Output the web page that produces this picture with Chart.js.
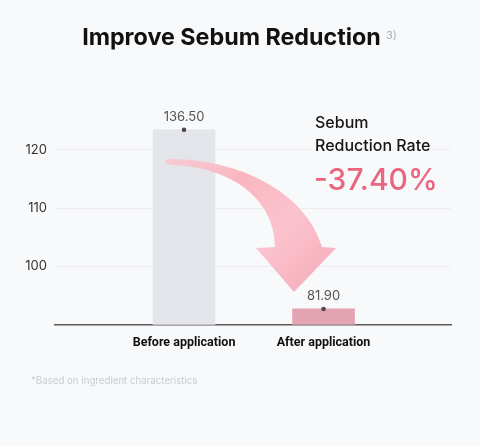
<!DOCTYPE html>
<html>
<head>
<meta charset="utf-8">
<script src="https://cdn.jsdelivr.net/npm/chart.js@4"></script>
<style>
  html, body { margin: 0; padding: 0; background: #f8f9fb; }
  #wrap { width: 480px; height: 446px; }
</style>
</head>
<body>
<div id="wrap"><canvas id="sebumChart" width="480" height="446"></canvas></div>
<script>
// chart data
const categories = ['Before application', 'After application'];
const barValues = [123.4, 92.7];        // bar heights as drawn on the axis
const valueLabels = ['136.50', '81.90']; // numbers printed above the bars
const yTicks = [100, 110, 120];
const rateText = '-37.40%';

const FONT = 'Inter, "Noto Sans", sans-serif';
const NARROW = 'Roboto, "Noto Sans", sans-serif';

// background + title + side texts + footnote
const decorPlugin = {
    id: 'decor',
    beforeDraw(chart) {
        const ctx = chart.ctx;
        ctx.save();
        ctx.fillStyle = '#f8f9fb';
        ctx.fillRect(0, 0, chart.width, chart.height);
        ctx.restore();
    },
    afterDraw(chart) {
        const ctx = chart.ctx;
        ctx.save();
        // title
        ctx.fillStyle = '#111';
        ctx.font = 'bold 23.3px ' + FONT;
        ctx.textBaseline = 'alphabetic';
        ctx.textAlign = 'center';
        ctx.fillText('Improve Sebum Reduction', 231.5, 45);
        ctx.fillStyle = '#a9abb0';
        ctx.font = '11px ' + FONT;
        ctx.textAlign = 'left';
        ctx.fillText('3)', 386, 39);

        // reduction rate
        ctx.fillStyle = '#151515';
        ctx.font = '500 16px ' + FONT;
        ctx.fillText('Sebum', 315, 128);
        ctx.fillText('Reduction Rate', 315, 151);
        ctx.fillStyle = '#e8667e';
        ctx.font = '500 30px ' + FONT;
        ctx.fillText(rateText, 314, 190);

        // footnote
        ctx.fillStyle = '#c9cbd0';
        ctx.font = '9.7px ' + FONT;
        ctx.fillText('*Based on ingredient characteristics', 31, 384);
        ctx.restore();
    }
};

// curved arrow + value labels above the bars
const arrowPlugin = {
    id: 'arrow',
    afterDatasetsDraw(chart) {
        const ctx = chart.ctx;
        ctx.save();
        const g = ctx.createLinearGradient(165, 160, 300, 290);
        g.addColorStop(0, 'rgba(250,196,206,0.75)');
        g.addColorStop(0.35, '#f9b5bf');
        g.addColorStop(0.7, '#fbc3cf');
        g.addColorStop(1, '#f7b2be');
        ctx.fillStyle = g;
        ctx.beginPath();
        ctx.moveTo(167, 159);
        ctx.bezierCurveTo(235, 158, 305, 190, 322, 247);
        ctx.lineTo(336, 248);
        ctx.lineTo(294, 292);
        ctx.lineTo(256, 248);
        ctx.lineTo(275, 247);
        ctx.bezierCurveTo(275, 205, 240, 168, 172, 165);
        ctx.quadraticCurveTo(161, 163, 167, 159);
        ctx.closePath();
        ctx.fill();
        ctx.restore();

        // numbers above bars
        const meta = chart.getDatasetMeta(0);
        ctx.save();
        ctx.fillStyle = '#555';
        ctx.font = '13px ' + FONT;
        ctx.textAlign = 'center';
        ctx.textBaseline = 'middle';
        meta.data.forEach((bar, i) => {
            ctx.fillText(valueLabels[i], bar.x, bar.y - 13);
        });
        ctx.restore();
    }
};

const ctx = document.getElementById('sebumChart').getContext('2d');
new Chart(ctx, {
    type: 'bar',
    data: {
        datasets: [
            {
                data: barValues.map((v, i) => ({ x: i, y: v })),
                backgroundColor: ['#e3e5ea', '#e3a4b1'],
                barThickness: 62,
                order: 2
            },
            {
                type: 'scatter',
                data: barValues.map((v, i) => ({ x: i, y: v })),
                pointRadius: 2.3,
                pointBackgroundColor: '#4a4a4a',
                pointBorderWidth: 0,
                order: 1
            }
        ]
    },
    options: {
        responsive: false,
        animation: false,
        events: [],
        layout: { padding: { top: 103, right: 29, left: 0, bottom: 0 } },
        plugins: { legend: { display: false }, tooltip: { enabled: false } },
        scales: {
            x: {
                type: 'linear',
                offset: false,
                min: -0.925,
                max: 1.914,
                afterBuildTicks: s => { s.ticks = categories.map((c, i) => ({ value: i })); },
                afterFit: s => { s.height = 121.3; },
                grid: { display: false, drawTicks: false },
                border: { display: true, color: '#5a5a5a', width: 1.5 },
                ticks: {
                    padding: 11,
                    color: '#111',
                    font: { family: NARROW, size: 12.5, weight: 'bold' },
                    callback: v => categories[v]
                }
            },
            y: {
                min: 90,
                max: 128,
                afterBuildTicks: s => { s.ticks = yTicks.map(v => ({ value: v })); },
                afterFit: s => { s.width = 55; },
                grid: { color: '#ededf0', lineWidth: 1, drawTicks: false },
                border: { display: false },
                ticks: {
                    padding: 8,
                    color: '#333',
                    font: { family: FONT, size: 13 }
                }
            }
        }
    },
    plugins: [decorPlugin, arrowPlugin]
});
</script>
</body>
</html>
